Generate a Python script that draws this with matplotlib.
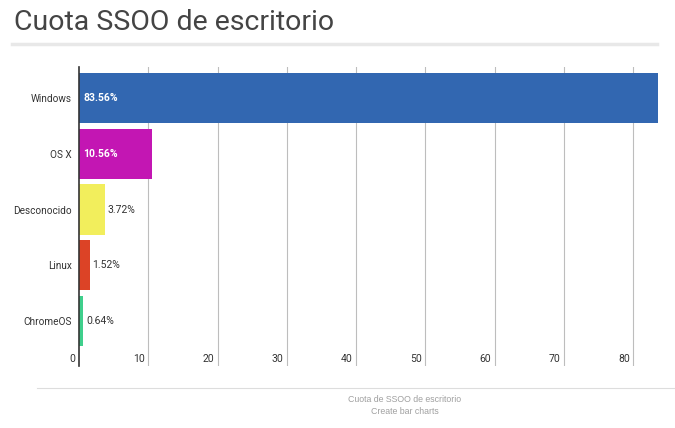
import matplotlib.pyplot as plt
import matplotlib.transforms as mtransforms

categories = ['Windows', 'OS X', 'Desconocido', 'Linux', 'ChromeOS']
values = [83.56, 10.56, 3.72, 1.52, 0.64]
colors = ['#3267b1', '#c316b3', '#f2ee5c', '#dc4326', '#3fcf8c']
inside = [True, True, False, False, False]
ticks = [0, 10, 20, 30, 40, 50, 60, 70, 80]

W, H = 675, 428
fig = plt.figure(figsize=(W / 100, H / 100), dpi=100)
fig.patch.set_facecolor('white')

# title + rule under it
fig.text(14 / W, 1 - 30 / H, 'Cuota SSOO de escritorio', family='Roboto',
         fontsize=20.5, color='#444444', va='baseline')
fig.add_artist(plt.Line2D([12 / W, 657 / W], [1 - 44 / H] * 2, color='#e8e8e8', lw=2.5))

ax = fig.add_axes([79 / W, 1 - 366 / H, (658 - 79) / W, (366 - 67) / H])
ypos = list(range(len(categories)))
ax.set_xlim(0, values[0])
ax.set_ylim(len(categories) - 1 + 0.81, -0.56)

for t in ticks[1:]:
    ax.axvline(t, color='#bdbdbd', lw=0.8, zorder=0)

ax.barh(ypos, values, height=0.9, color=colors, zorder=2)

for y, v, ins in zip(ypos, values, inside):
    if ins:
        ax.text(0.6, y, f'{v:.2f}%', color='white', fontweight='bold', family='Roboto',
                fontsize=7.5, va='center', ha='left', zorder=3)
    else:
        ax.text(v + 0.4, y, f'{v:.2f}%', color='#333333', family='Roboto',
                fontsize=7.5, va='center', ha='left', zorder=3)

ax.set_yticks(ypos)
ax.set_yticklabels(categories, family='Roboto', fontsize=7.2, color='#333333')
ax.tick_params(axis='y', length=0, pad=5)
ax.set_xticks([])

trans = mtransforms.blended_transform_factory(ax.transData, ax.transAxes)
for t in ticks:
    ax.text(t - 0.5, 0.012, str(t), transform=trans, ha='right', va='baseline',
            family='Roboto', fontsize=7.5, color='#333333')

for s in ['top', 'right', 'bottom']:
    ax.spines[s].set_visible(False)
ax.spines['left'].set_color('#333333')
ax.spines['left'].set_linewidth(1.2)
ax.spines['left'].set_zorder(4)

# footer
fig.add_artist(plt.Line2D([37 / W, 1.0], [1 - 388 / H] * 2, color='#dddddd', lw=0.8))
fig.text(405 / W, 1 - 400 / H, 'Cuota de SSOO de escritorio', family='Liberation Sans',
         fontsize=6.3, color='#a0a0a0', ha='center', va='center')
fig.text(405 / W, 1 - 411 / H, 'Create bar charts', family='Liberation Sans',
         fontsize=6.3, color='#a0a0a0', ha='center', va='center')

fig.savefig('out.png', dpi=100)
